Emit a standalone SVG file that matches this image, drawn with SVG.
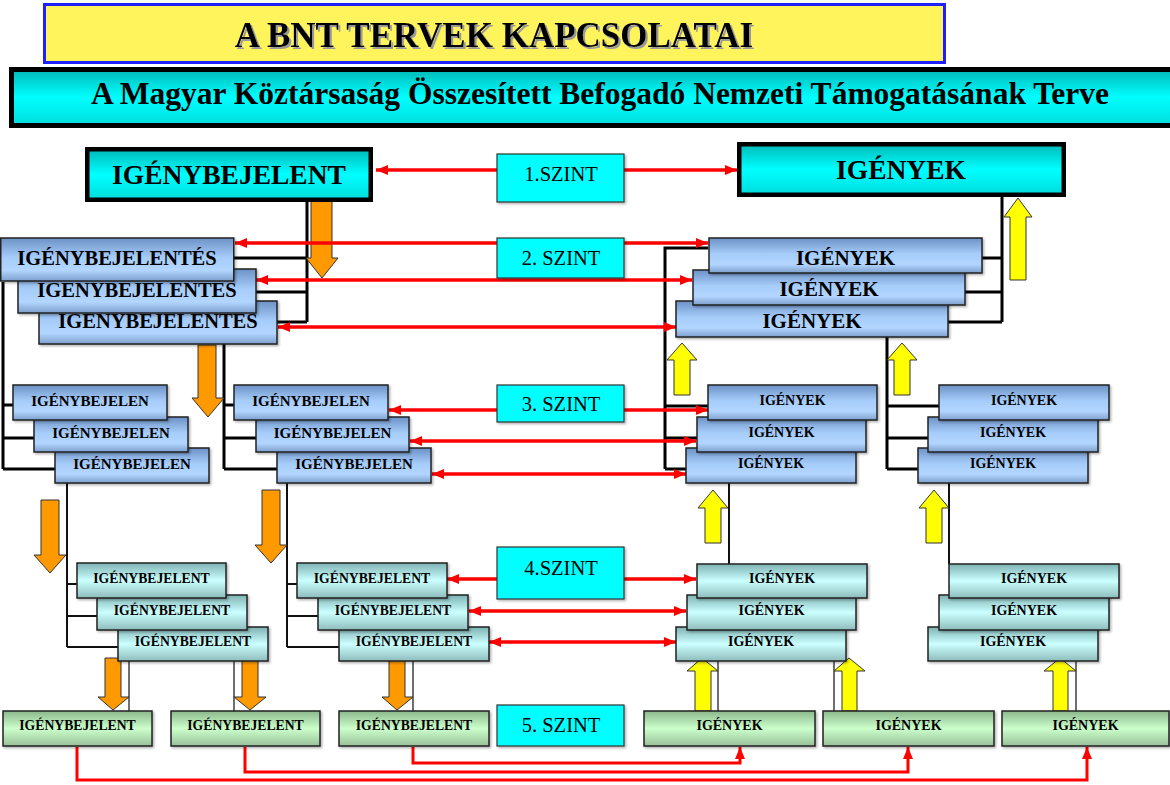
<svg xmlns="http://www.w3.org/2000/svg" width="1170" height="785" viewBox="0 0 1170 785">
<defs>
<style>
.t{font-family:"Liberation Serif","Times New Roman",serif;font-weight:bold;fill:#000;text-anchor:middle}
.s{font-family:"Liberation Serif","Times New Roman",serif;font-size:20.5px;fill:#000;text-anchor:middle}
.b2{fill:url(#gBlue);stroke:#222;stroke-width:1.5;filter:url(#sh)}
.b4{fill:url(#gTeal);stroke:#222;stroke-width:1.5;filter:url(#sh)}
.b5{fill:url(#gGreen);stroke:#222;stroke-width:1.5;filter:url(#sh)}
.sz{fill:#00FFFF;stroke:#333;stroke-width:1.2;filter:url(#sh)}
.k3{stroke:#000;stroke-width:3;fill:none}
.k2{stroke:#111;stroke-width:2;fill:none}
.k1{stroke:#222;stroke-width:1.3;fill:none}
.red{stroke:#FF0000;stroke-width:3.5;fill:none;marker-start:url(#ah);marker-end:url(#ah)}
.red1{stroke:#FF0000;stroke-width:3;fill:none;marker-end:url(#ah)}
.or{fill:#FF9900;stroke:#333;stroke-width:1}
.ye{fill:#FFFF00;stroke:#333;stroke-width:1}
</style>
<linearGradient id="gBlue" x1="0" y1="0" x2="0" y2="1">
<stop offset="0" stop-color="#6c92c6"/><stop offset="0.45" stop-color="#a6ccfa"/><stop offset="0.75" stop-color="#b2d6ff"/><stop offset="1" stop-color="#7e9fcc"/>
</linearGradient>
<linearGradient id="gTeal" x1="0" y1="0" x2="0" y2="1">
<stop offset="0" stop-color="#7fb3b3"/><stop offset="0.5" stop-color="#ccffff"/><stop offset="1" stop-color="#8ebcbc"/>
</linearGradient>
<linearGradient id="gGreen" x1="0" y1="0" x2="0" y2="1">
<stop offset="0" stop-color="#8cb88c"/><stop offset="0.5" stop-color="#ccffcc"/><stop offset="1" stop-color="#99c099"/>
</linearGradient>
<linearGradient id="gCyan" x1="0" y1="0" x2="0" y2="1">
<stop offset="0" stop-color="#00b8b8"/><stop offset="0.5" stop-color="#00ffff"/><stop offset="1" stop-color="#00dcdc"/>
</linearGradient>
<filter id="sh" x="-5%" y="-10%" width="115%" height="135%">
<feDropShadow dx="1.5" dy="1.5" stdDeviation="0.8" flood-color="#000" flood-opacity="0.3"/>
</filter>
<filter id="tsh" x="-5%" y="-20%" width="110%" height="150%">
<feDropShadow dx="2" dy="2" stdDeviation="0.3" flood-color="#9a9a9a" flood-opacity="1"/>
</filter>
<marker id="ah" viewBox="0 0 12 10" refX="12" refY="5" markerWidth="12" markerHeight="10" markerUnits="userSpaceOnUse" orient="auto-start-reverse">
<path d="M0,0 L12,5 L0,10 z" fill="#FF0000"/>
</marker>
</defs>
<rect width="1170" height="785" fill="#fff"/>

<g id="connectors">
<g id="tree-lines">
<path class="k3" d="M307,202 V322 M234,258 H307 M256,292 H307 M277,322 H307"/>
<path class="k3" d="M1002,197 V322 M982,258 H1002 M965,292 H1002 M948,322 H1002"/>
<path class="k3" d="M3,282 V469 M3,405 H13 M3,438 H34 M3,469 H55"/>
<path class="k3" d="M224,344 V469 M224,405 H234 M224,438 H256 M224,469 H277"/>
<path class="k3" d="M708,248 H665 V469 M665,406 H708 M665,438 H697 M665,469 H686"/>
<path class="k3" d="M887,337 V469 M887,406 H939 M887,438 H928 M887,469 H918"/>
<path class="k2" d="M67,483 V647 M67,584 H77 M67,616 H97 M67,647 H118"/>
<path class="k2" d="M287,483 V647 M287,584 H297 M287,616 H318 M287,647 H339"/>
<path class="k2" d="M729,483 V564 M949,483 V564"/>
<path class="k1" d="M129,661 V711 M234,661 V711 M413,661 V711 M718,661 V711 M834,661 V711 M1076,661 V711"/>
</g>
<g id="block-arrows">
<path class="or" d="M311,197 H332 V258 H338 L322,278 L306,258 H311 Z"/>
<path class="or" d="M198,345 H216 V398 H224 L208,417 L192,398 H198 Z"/>
<path class="or" d="M41,500 H59 V555 H66 L50,573 L34,555 H41 Z"/>
<path class="or" d="M262,490 H280 V545 H287 L271,563 L255,545 H262 Z"/>
<path class="or" d="M105,658 H121 V697 H129 L113,710 L98,697 H105 Z"/>
<path class="or" d="M242,658 H258 V697 H266 L250,710 L234,697 H242 Z"/>
<path class="or" d="M389,658 H405 V697 H413 L397,710 L382,697 H389 Z"/>
<path class="ye" d="M1010,280 H1026 V217 H1032 L1018,198 L1004,217 H1010 Z"/>
<path class="ye" d="M674,395 H690 V360 H697 L682,343 L667,360 H674 Z"/>
<path class="ye" d="M894,395 H910 V360 H917 L902,343 L887,360 H894 Z"/>
<path class="ye" d="M705,543 H721 V508 H728 L713,490 L698,508 H705 Z"/>
<path class="ye" d="M926,543 H942 V508 H949 L934,490 L919,508 H926 Z"/>
<path class="ye" d="M695,711 H711 V671 H718 L702,658 L687,671 H695 Z"/>
<path class="ye" d="M842,711 H857 V671 H865 L849,658 L834,671 H842 Z"/>
<path class="ye" d="M1053,711 H1068 V671 H1076 L1060,658 L1044,671 H1053 Z"/>
</g>
<g id="level-links">
<path class="red" d="M376,170 H737"/>
<path class="red" d="M235,243 H708"/>
<path class="red" d="M256,280 H692"/>
<path class="red" d="M278,327 H676"/>
<path class="red" d="M389,410 H708"/>
<path class="red" d="M410,441 H696"/>
<path class="red" d="M432,474 H686"/>
<path class="red" d="M447,579 H696"/>
<path class="red" d="M469,611 H686"/>
<path class="red" d="M489,642 H676"/>
<path class="red1" d="M77,747 V780 H1087 V747"/>
<path class="red1" d="M245,747 V772 H908 V747"/>
<path class="red1" d="M413,747 V763 H740 V747"/>
</g>
</g>

<g id="title"><rect x="44.5" y="4.5" width="900" height="58" fill="#FFF45C" stroke="#1F1FFF" stroke-width="3"/><text class="t" x="494" y="47" font-size="35" filter="url(#tsh)">A BNT TERVEK KAPCSOLATAI</text></g>
<g id="subtitle"><rect x="11.5" y="69.5" width="1165" height="56" fill="url(#gCyan)" stroke="#000" stroke-width="5"/><text class="t" x="600" y="104" font-size="31.5">A Magyar Köztársaság Összesített Befogadó Nemzeti Támogatásának Terve</text></g>

<g id="szint1"><rect class="sz" x="497" y="154" width="127" height="48"/><text class="s" x="561" y="181">1.SZINT</text></g>
<g id="szint2"><rect class="sz" x="497" y="238" width="127" height="40"/><text class="s" x="561" y="265">2. SZINT</text></g>
<g id="szint3"><rect class="sz" x="497" y="385" width="127" height="37"/><text class="s" x="561" y="411">3. SZINT</text></g>
<g id="szint4"><rect class="sz" x="497" y="547" width="127" height="52"/><text class="s" x="561" y="575">4.SZINT</text></g>
<g id="szint5"><rect class="sz" x="497" y="705" width="127" height="41"/><text class="s" x="561" y="732">5. SZINT</text></g>

<g id="l1-bejelentes"><rect x="87.25" y="149.25" width="283.5" height="50.5" fill="url(#gCyan)" stroke="#000" stroke-width="4.5"/><text class="t" x="229" y="184" font-size="27.5">IGÉNYBEJELENT</text></g>
<g id="l1-igenyek"><rect x="739.25" y="144.25" width="324.5" height="50.5" fill="url(#gCyan)" stroke="#000" stroke-width="4.5"/><text class="t" x="901" y="179" font-size="27.5">IGÉNYEK</text></g>

<g id="l2-b3"><rect class="b2" x="39" y="301" width="238" height="43"/><text class="t" x="158" y="328" font-size="20.5">IGENYBEJELENTES</text></g>
<g id="l2-b2"><rect class="b2" x="18" y="269" width="238" height="44"/><text class="t" x="137" y="297" font-size="20.5">IGENYBEJELENTES</text></g>
<g id="l2-b1"><rect class="b2" x="0.75" y="238" width="233" height="43"/><text class="t" x="117" y="265" font-size="20.5">IGÉNYBEJELENTÉS</text></g>

<g id="l2-i3"><rect class="b2" x="676" y="301" width="272" height="36"/><text class="t" x="812" y="328" font-size="21">IGÉNYEK</text></g>
<g id="l2-i2"><rect class="b2" x="693" y="270" width="272" height="35"/><text class="t" x="829" y="296" font-size="21">IGÉNYEK</text></g>
<g id="l2-i1"><rect class="b2" x="709" y="238" width="273" height="35"/><text class="t" x="845.5" y="265" font-size="21">IGÉNYEK</text></g>

<g id="l3-a3"><rect class="b2" x="55" y="448" width="154" height="35"/><text class="t" x="132" y="469" font-size="15">IGÉNYBEJELEN</text></g>
<g id="l3-a2"><rect class="b2" x="34" y="417" width="154" height="35"/><text class="t" x="111" y="438" font-size="15">IGÉNYBEJELEN</text></g>
<g id="l3-a1"><rect class="b2" x="13" y="385" width="154" height="35"/><text class="t" x="90" y="406" font-size="15">IGÉNYBEJELEN</text></g>
<g id="l3-b3"><rect class="b2" x="277" y="448" width="154" height="35"/><text class="t" x="354" y="469" font-size="15">IGÉNYBEJELEN</text></g>
<g id="l3-b2"><rect class="b2" x="256" y="417" width="153" height="35"/><text class="t" x="332.5" y="438" font-size="15">IGÉNYBEJELEN</text></g>
<g id="l3-b1"><rect class="b2" x="234" y="385" width="154" height="35"/><text class="t" x="311" y="406" font-size="15">IGÉNYBEJELEN</text></g>
<g id="l3-c3"><rect class="b2" x="686" y="448" width="170" height="35"/><text class="t" x="771" y="468" font-size="14">IGÉNYEK</text></g>
<g id="l3-c2"><rect class="b2" x="697" y="417" width="169" height="35"/><text class="t" x="781.5" y="437" font-size="14">IGÉNYEK</text></g>
<g id="l3-c1"><rect class="b2" x="708" y="385" width="169" height="35"/><text class="t" x="792.5" y="405" font-size="14">IGÉNYEK</text></g>
<g id="l3-d3"><rect class="b2" x="918" y="448" width="170" height="35"/><text class="t" x="1003" y="468" font-size="14">IGÉNYEK</text></g>
<g id="l3-d2"><rect class="b2" x="928" y="417" width="170" height="35"/><text class="t" x="1013" y="437" font-size="14">IGÉNYEK</text></g>
<g id="l3-d1"><rect class="b2" x="939" y="385" width="170" height="35"/><text class="t" x="1024" y="405" font-size="14">IGÉNYEK</text></g>

<g id="l4-a3"><rect class="b4" x="118" y="627" width="150" height="34"/><text class="t" x="193" y="646" font-size="13.7">IGÉNYBEJELENT</text></g>
<g id="l4-a2"><rect class="b4" x="97" y="595" width="150" height="35"/><text class="t" x="172" y="615" font-size="13.7">IGÉNYBEJELENT</text></g>
<g id="l4-a1"><rect class="b4" x="77" y="563" width="149" height="35"/><text class="t" x="151.5" y="583" font-size="13.7">IGÉNYBEJELENT</text></g>
<g id="l4-b3"><rect class="b4" x="339" y="627" width="150" height="34"/><text class="t" x="414" y="646" font-size="13.7">IGÉNYBEJELENT</text></g>
<g id="l4-b2"><rect class="b4" x="318" y="595" width="150" height="35"/><text class="t" x="393" y="615" font-size="13.7">IGÉNYBEJELENT</text></g>
<g id="l4-b1"><rect class="b4" x="297" y="563" width="150" height="35"/><text class="t" x="372" y="583" font-size="13.7">IGÉNYBEJELENT</text></g>
<g id="l4-c3"><rect class="b4" x="676" y="627" width="170" height="34"/><text class="t" x="761" y="646" font-size="14">IGÉNYEK</text></g>
<g id="l4-c2"><rect class="b4" x="687" y="595" width="169" height="35"/><text class="t" x="771.5" y="615" font-size="14">IGÉNYEK</text></g>
<g id="l4-c1"><rect class="b4" x="697" y="564" width="170" height="34"/><text class="t" x="782" y="583" font-size="14">IGÉNYEK</text></g>
<g id="l4-d3"><rect class="b4" x="928" y="627" width="170" height="34"/><text class="t" x="1013" y="646" font-size="14">IGÉNYEK</text></g>
<g id="l4-d2"><rect class="b4" x="939" y="595" width="170" height="35"/><text class="t" x="1024" y="615" font-size="14">IGÉNYEK</text></g>
<g id="l4-d1"><rect class="b4" x="949" y="564" width="170" height="34"/><text class="t" x="1034" y="583" font-size="14">IGÉNYEK</text></g>

<g id="l5-a"><rect class="b5" x="3" y="711" width="149" height="35"/><text class="t" x="77.5" y="730" font-size="13.7">IGÉNYBEJELENT</text></g>
<g id="l5-b"><rect class="b5" x="171" y="711" width="149" height="35"/><text class="t" x="245.5" y="730" font-size="13.7">IGÉNYBEJELENT</text></g>
<g id="l5-c"><rect class="b5" x="339" y="711" width="150" height="35"/><text class="t" x="414" y="730" font-size="13.7">IGÉNYBEJELENT</text></g>
<g id="l5-d"><rect class="b5" x="644" y="711" width="171" height="35"/><text class="t" x="729.5" y="730" font-size="14">IGÉNYEK</text></g>
<g id="l5-e"><rect class="b5" x="823" y="711" width="171" height="35"/><text class="t" x="908.5" y="730" font-size="14">IGÉNYEK</text></g>
<g id="l5-f"><rect class="b5" x="1002" y="711" width="167" height="35"/><text class="t" x="1085.5" y="730" font-size="14">IGÉNYEK</text></g>
</svg>
